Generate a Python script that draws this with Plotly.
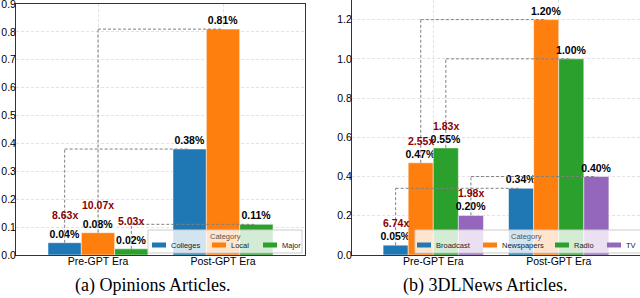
import plotly.graph_objects as go

eras = ["Pre-GPT Era", "Post-GPT Era"]

# Panel (a): Opinions Articles
op_cats = ["Colleges", "Local", "Major"]
op_pre = [0.044, 0.080, 0.022]
op_post = [0.38, 0.81, 0.11]
op_ratio = ["8.63x", "10.07x", "5.03x"]

# Panel (b): 3DLNews Articles
dl_cats = ["Broadcast", "Newspapers", "Radio", "TV"]
dl_pre = [0.050, 0.47, 0.546, 0.202]
dl_post = [0.34, 1.20, 1.00, 0.40]
dl_ratio = ["6.74x", "2.55x", "1.83x", "1.98x"]

colors = ["#1f77b4", "#ff7f0e", "#2ca02c", "#9467bd"]
SANS = "Liberation Sans, Arial, sans-serif"
SERIF = "Liberation Serif, Times New Roman, serif"
BARGAP = 0.2
W, H = 640, 298

def px(x):
    return x / W

def py(y):
    return 1 - y / H

fig = go.Figure()

def add_panel(cats, pre, post, xa, ya):
    for i, c in enumerate(cats):
        fig.add_trace(go.Bar(
            x=eras, y=[pre[i], post[i]], name=c,
            marker=dict(color=colors[i], line=dict(color="white", width=0.5)),
            texttemplate="%{y:.2f}%", textposition="outside", constraintext="none",
            textfont=dict(family=SANS, size=10.5, color="black", weight="bold"),
            cliponaxis=False, xaxis=xa, yaxis=ya, showlegend=False,
        ))

add_panel(op_cats, op_pre, op_post, "x", "y")
add_panel(dl_cats, dl_pre, dl_post, "x2", "y2")

def connectors(cats, pre, post, ratios, xref, yref, shift):
    n = len(cats)
    w = (1 - BARGAP) / n
    for i in range(n):
        off = (i - (n - 1) / 2) * w
        xp, xq = 0 + off, 1 + off
        line = dict(color="#808080", width=1, dash="3px,2px")
        fig.add_shape(type="line", xref=xref, yref=yref, x0=xp, x1=xp,
                      y0=pre[i], y1=post[i], line=line, layer="above")
        fig.add_shape(type="line", xref=xref, yref=yref, x0=xp, x1=xq,
                      y0=post[i], y1=post[i], line=line, layer="above")
        fig.add_annotation(x=xp, y=pre[i], xref=xref, yref=yref, text=ratios[i],
                           showarrow=False, yshift=shift, yanchor="middle", xanchor="center",
                           font=dict(family=SANS, size=10.5, color="#8b0000", weight="bold"))

connectors(op_cats, op_pre, op_post, op_ratio, "x", "y", 28)
connectors(dl_cats, dl_pre, dl_post, dl_ratio, "x2", "y2", 22)

# Legends drawn as boxes with patches and text
def legend_box(cats, box, title_x, patch_x, text_x):
    x0, y0, x1, y1 = box
    fig.add_shape(type="rect", xref="paper", yref="paper",
                  x0=px(x0), x1=px(x1), y0=py(y1), y1=py(y0),
                  fillcolor="rgba(255,255,255,0.8)", line=dict(color="#cccccc", width=1),
                  layer="above")
    fig.add_annotation(x=px(title_x), y=py(236), xref="paper", yref="paper",
                       text="Category", showarrow=False, xanchor="center", yanchor="middle",
                       font=dict(family=SANS, size=7.5, color="#555555"))
    for i, c in enumerate(cats):
        fig.add_shape(type="rect", xref="paper", yref="paper",
                      x0=px(patch_x[i]), x1=px(patch_x[i] + 14), y0=py(247.5), y1=py(242.5),
                      fillcolor=colors[i], line=dict(width=0), layer="above")
        fig.add_annotation(x=px(text_x[i]), y=py(245), xref="paper", yref="paper",
                           text=c, showarrow=False, xanchor="left", yanchor="middle",
                           font=dict(family=SANS, size=7.5, color="#222222"))

legend_box(op_cats, (148, 230, 302, 253), 225, [152, 212, 263], [169, 229, 280])
legend_box(dl_cats, (415, 230, 660, 253), 526, [417, 483, 555, 607], [434, 500, 572, 624])

axis_common = dict(showline=True, linecolor="#333333", linewidth=1, mirror=True,
                   showgrid=True, gridcolor="#e3e3e3", griddash="3px,2px", gridwidth=0.8,
                   ticks="", tickfont=dict(family=SANS, size=10.5, color="black"),
                   zeroline=False, automargin=False, ticklabeloverflow="allow")

fig.update_layout(
    width=W, height=H,
    margin=dict(l=0, r=0, t=0, b=0),
    template="none",
    paper_bgcolor="white", plot_bgcolor="white",
    barmode="group", bargap=BARGAP, bargroupgap=0,
    showlegend=False,
    xaxis=dict(domain=[0.025, 0.4766], anchor="y", type="category",
               range=[-0.656, 1.656], ticklabelstandoff=-4, **axis_common),
    yaxis=dict(domain=[0.1443, 0.9866], anchor="x", range=[0, 0.9001], dtick=0.1,
               tickformat=".1f", ticklabelstandoff=-3, **axis_common),
    xaxis2=dict(domain=[0.55, 1.0], anchor="y2", type="category",
                range=[-0.648, 1.648], ticklabelstandoff=-4, **axis_common),
    yaxis2=dict(domain=[0.1443, 1.0], anchor="x2", range=[0, 1.3], dtick=0.2,
                tickformat=".1f", ticklabelstandoff=-3, **axis_common),
)

fig.add_annotation(x=0.2375, y=py(285), xref="paper", yref="paper",
                   text="(a) Opinions Articles.", showarrow=False,
                   xanchor="center", yanchor="middle",
                   font=dict(family=SERIF, size=18, color="black"))
fig.add_annotation(x=0.758, y=py(285), xref="paper", yref="paper",
                   text="(b) 3DLNews Articles.", showarrow=False,
                   xanchor="center", yanchor="middle",
                   font=dict(family=SERIF, size=18, color="black"))

fig.write_html("out.html", config={"displayModeBar": False},
               post_script="document.body.style.margin='0';")
